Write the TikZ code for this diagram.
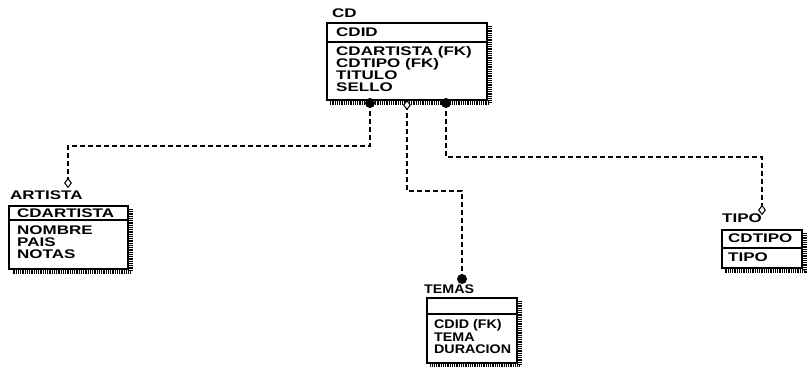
\documentclass[tikz,border=0pt]{standalone}
\usepackage{fontspec}
\newfontfamily\erfont{Liberation Sans}[FakeStretch=1.36]
\usetikzlibrary{shapes.geometric}
\tikzset{
  er/.style={font=\erfont\bfseries\fontsize{12.5bp}{12.5bp}\selectfont, anchor=base west, inner sep=0pt},
  ern/.style={er, xscale=0.84},
  box/.style={draw, line width=1.2bp},
  shd/.style={line width=3.5bp, dash pattern=on 1bp off 0.8bp},
  rel/.style={line width=1.2bp, dash pattern=on 5bp off 3bp},
  dot/.style={circle, fill=black, inner sep=0pt, minimum size=10bp},
  dia/.style={diamond, draw, fill=white, inner sep=0pt, minimum width=7bp, minimum height=9bp, line width=1bp},
}
\begin{document}
\begin{tikzpicture}[x=1bp,y=-1bp]
\useasboundingbox (0,0) rectangle (807,366);
% ---------- CD ----------
\draw[shd] (489.8,26) -- (489.8,102.8) -- (330,102.8);
\draw[box,fill=white] (327,23) rectangle (487,100);
\draw[box] (327,42) -- (487,42);
\node[er] (cdT) at (332,17) {CD};
\node[er] (cd1) at (336,36) {CDID};
\node[er] (cd2) at (336,55) {CDARTISTA (FK)};
\node[er] (cd3) at (336,67) {CDTIPO (FK)};
\node[er] (cd4) at (336,79) {TITULO};
\node[er] (cd5) at (336,91) {SELLO};
% ---------- ARTISTA ----------
\draw[shd] (130.8,209) -- (130.8,271.8) -- (12,271.8);
\draw[box,fill=white] (9,206) rectangle (128,269);
\draw[box] (9,220) -- (128,220);
\node[er] (arT) at (10,199) {ARTISTA};
\node[er] (ar1) at (17,217) {CDARTISTA};
\node[er] (ar2) at (17,234) {NOMBRE};
\node[er] (ar3) at (17,246) {PAIS};
\node[er] (ar4) at (17,258) {NOTAS};
% ---------- TEMAS ----------
\draw[shd] (519.8,301) -- (519.8,365.5) -- (430,365.5);
\draw[box,fill=white] (427,298) rectangle (517,363);
\draw[box] (427,314) -- (517,314);
\node[ern] (teT) at (424,293) {TEMAS};
\node[ern] (te1) at (434,328) {CDID (FK)};
\node[ern] (te2) at (434,341) {TEMA};
\node[ern] (te3) at (434,353) {DURACION};
% ---------- TIPO ----------
\draw[shd] (804.8,233) -- (804.8,270.8) -- (725,270.8);
\draw[box,fill=white] (722,230) rectangle (802,268);
\draw[box] (722,248) -- (802,248);
\node[er] (tiT) at (722,222) {TIPO};
\node[er] (ti1) at (728,242) {CDTIPO};
\node[er] (ti2) at (728,261) {TIPO};
% ---------- relationship end points ----------
\coordinate (cdA) at (370,103);
\coordinate (cdB) at (407,105);
\coordinate (cdC) at (446,103);
\coordinate (arE) at (68,183);
\coordinate (teE) at (462,279);
\coordinate (tiE) at (762,210);
% ---------- connectors ----------
\draw[rel] (cdA) -- (cdA |- 0,146) -| (arE);
\draw[rel] (cdB) -- (cdB |- 0,191) -| (teE);
\draw[rel] (cdC) -- (cdC |- 0,157) -| (tiE);
% ---------- end marks ----------
\node[dot] (mA) at (cdA) {};
\node[dia] (mB) at (cdB) {};
\node[dot] (mC) at (cdC) {};
\node[dia] (mAe) at (arE) {};
\node[dot] (mBe) at (teE) {};
\node[dia] (mCe) at (tiE) {};
\end{tikzpicture}
\end{document}
